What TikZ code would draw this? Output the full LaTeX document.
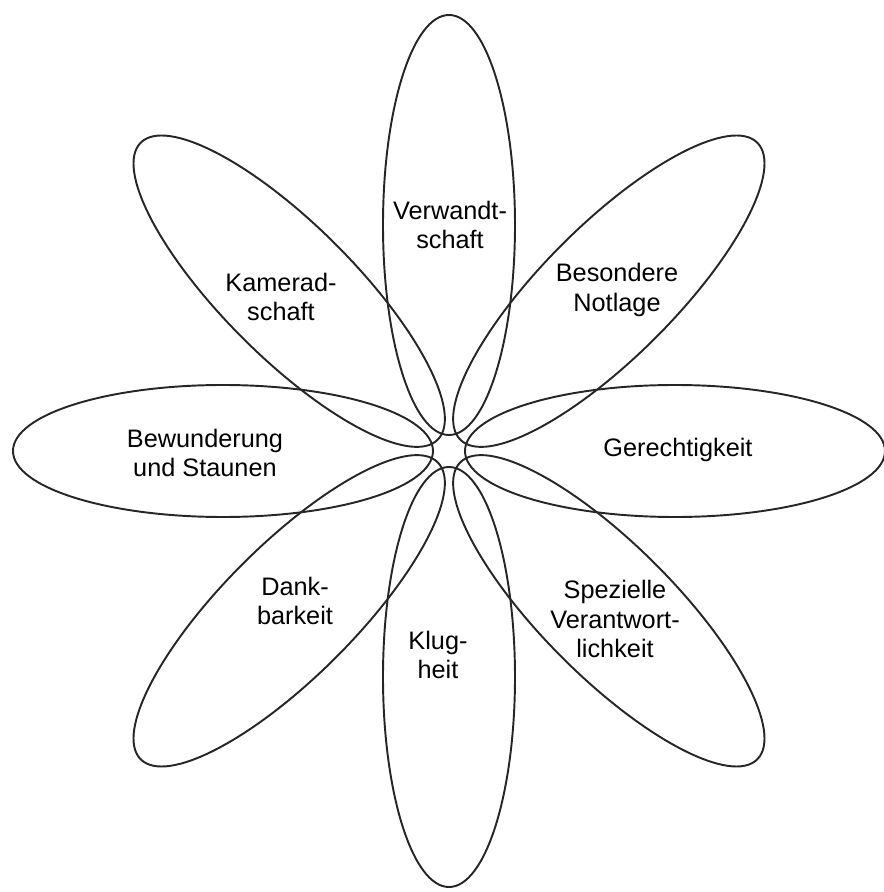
\documentclass[tikz,border=0pt]{standalone}
\usepackage{fontspec}
\setmainfont{Liberation Sans}

\tikzset{
    petal/.style={line width=1.1pt, black!85},
    word/.style={align=center, inner sep=0pt, font=\fontsize{14.4}{16.6}\selectfont}
}

\begin{document}
\begin{tikzpicture}[x=0.02cm, y=0.02cm]
        % Frame
        \useasboundingbox (-449,-441) rectangle (434,451);

        % Petals
        \foreach \a in {0,45,...,315} {
            \draw[petal, rotate=\a] (226,0) ellipse (210 and 66);
        }

        % Labels
        \node[word] (verw) at (1,226) {Verwandt-\\schaft};
        \node[word] (notl) at (168,161) {Besondere\\Notlage};
        \node[word] (gere) at (229,1) {Gerechtigkeit};
        \node[word] (spez) at (166,-168) {Spezielle\\Verantwort-\\lichkeit};
        \node[word] (klug) at (-11,-204) {Klug-\\heit};
        \node[word] (dank) at (-154,-150) {Dank-\\barkeit};
        \node[word] (bewu) at (-244,-2) {Bewunderung\\und Staunen};
        \node[word] (kame) at (-168,154) {Kamerad-\\schaft};
    \end{tikzpicture}
\end{document}
